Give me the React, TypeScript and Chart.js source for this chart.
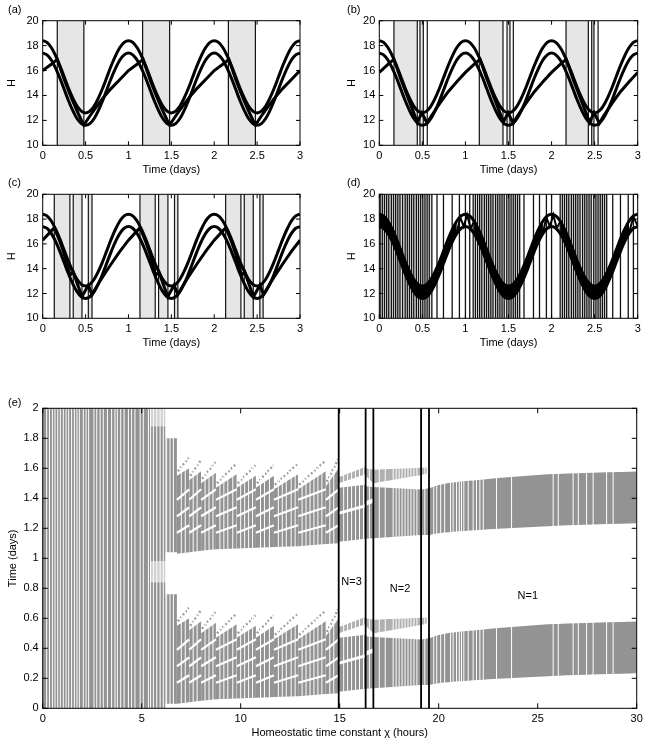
import React, { useEffect, useRef } from 'react';
import { Chart, registerables } from 'chart.js';
Chart.register(...registerables);

const FONT_FAMILY = "'Liberation Sans', Arial, Helvetica, sans-serif";
const TRANSPARENT = 'rgba(0,0,0,0)';

// ---------------- DATA: panels (a)-(d) ----------------
const T_GRID = [0, 0.05, 0.1, 0.15, 0.2, 0.25, 0.3, 0.35, 0.4, 0.45, 0.5, 0.55, 0.6, 0.65, 0.7, 0.75, 0.8, 0.85, 0.9, 0.95,
  1, 1.05, 1.1, 1.15, 1.2, 1.25, 1.3, 1.35, 1.4, 1.45, 1.5, 1.55, 1.6, 1.65, 1.7, 1.75, 1.8, 1.85, 1.9, 1.95,
  2, 2.05, 2.1, 2.15, 2.2, 2.25, 2.3, 2.35, 2.4, 2.45, 2.5, 2.55, 2.6, 2.65, 2.7, 2.75, 2.8, 2.85, 2.9, 2.95, 3];
const H_UPPER = [18.4, 18.26, 17.85, 17.2, 16.4, 15.5, 14.6, 13.8, 13.15, 12.74, 12.6, 12.74, 13.15, 13.8, 14.6, 15.5, 16.4, 17.2, 17.85, 18.26,
  18.4, 18.26, 17.85, 17.2, 16.4, 15.5, 14.6, 13.8, 13.15, 12.74, 12.6, 12.74, 13.15, 13.8, 14.6, 15.5, 16.4, 17.2, 17.85, 18.26,
  18.4, 18.26, 17.85, 17.2, 16.4, 15.5, 14.6, 13.8, 13.15, 12.74, 12.6, 12.74, 13.15, 13.8, 14.6, 15.5, 16.4, 17.2, 17.85, 18.26, 18.4];
const H_LOWER = [17.4, 17.26, 16.85, 16.2, 15.4, 14.5, 13.6, 12.8, 12.15, 11.74, 11.6, 11.74, 12.15, 12.8, 13.6, 14.5, 15.4, 16.2, 16.85, 17.26,
  17.4, 17.26, 16.85, 16.2, 15.4, 14.5, 13.6, 12.8, 12.15, 11.74, 11.6, 11.74, 12.15, 12.8, 13.6, 14.5, 15.4, 16.2, 16.85, 17.26,
  17.4, 17.26, 16.85, 16.2, 15.4, 14.5, 13.6, 12.8, 12.15, 11.74, 11.6, 11.74, 12.15, 12.8, 13.6, 14.5, 15.4, 16.2, 16.85, 17.26, 17.4];

// (a) N=1
const A_T = [0, 0.1, 0.17, 0.2, 0.25, 0.3, 0.35, 0.4, 0.45, 0.48, 0.55, 0.6, 0.7, 0.8, 0.9,
  1, 1.1, 1.17, 1.2, 1.25, 1.3, 1.35, 1.4, 1.45, 1.48, 1.55, 1.6, 1.7, 1.8, 1.9,
  2, 2.1, 2.17, 2.2, 2.25, 2.3, 2.35, 2.4, 2.45, 2.48, 2.55, 2.6, 2.7, 2.8, 2.9, 3];
const A_H = [16.0, 16.5, 16.9, 16.3, 15.3, 14.4, 13.56, 12.77, 12.03, 11.62, 12.35, 12.85, 13.77, 14.57, 15.28,
  16.0, 16.5, 16.9, 16.3, 15.3, 14.4, 13.56, 12.77, 12.03, 11.62, 12.35, 12.85, 13.77, 14.57, 15.28,
  16.0, 16.5, 16.9, 16.3, 15.3, 14.4, 13.56, 12.77, 12.03, 11.62, 12.35, 12.85, 13.77, 14.57, 15.28, 16.0];
const A_ON = [0.17, 1.165, 2.165];
const A_OFF = [0.48, 1.48, 2.48];
const A_LINES = [0.17, 0.48, 1.165, 1.48, 2.165, 2.48];

// (b) N=2
const B_T = [0, 0.1, 0.17, 0.2, 0.25, 0.3, 0.35, 0.4, 0.44, 0.495, 0.555, 0.6, 0.7, 0.8, 0.9,
  1, 1.1, 1.17, 1.2, 1.25, 1.3, 1.35, 1.4, 1.44, 1.495, 1.555, 1.6, 1.7, 1.8, 1.9,
  2, 2.1, 2.17, 2.2, 2.25, 2.3, 2.35, 2.4, 2.44, 2.495, 2.555, 2.6, 2.7, 2.8, 2.9, 3];
const B_H = [15.85, 16.5, 16.9, 16.3, 15.3, 14.4, 13.5, 12.6, 11.85, 12.6, 11.77, 12.3, 13.35, 14.3, 15.1,
  15.85, 16.5, 16.9, 16.3, 15.3, 14.4, 13.5, 12.6, 11.85, 12.6, 11.77, 12.3, 13.35, 14.3, 15.1,
  15.85, 16.5, 16.9, 16.3, 15.3, 14.4, 13.5, 12.6, 11.85, 12.6, 11.77, 12.3, 13.35, 14.3, 15.1, 15.85];
const B_ON = [0.17, 0.472, 1.161, 1.483, 2.168, 2.466];
const B_OFF = [0.441, 0.511, 1.436, 1.517, 2.427, 2.492];
const B_LINES = [0.17, 0.441, 0.472, 0.511, 0.557, 1.161, 1.436, 1.483, 1.517, 1.556, 2.168, 2.427, 2.466, 2.492, 2.54];

// (c) N=3
const C_T = [0, 0.1, 0.135, 0.2, 0.25, 0.3, 0.317, 0.356, 0.4, 0.458, 0.532, 0.575, 0.65, 0.7, 0.8, 0.9,
  1, 1.1, 1.135, 1.2, 1.25, 1.3, 1.317, 1.356, 1.4, 1.458, 1.532, 1.575, 1.65, 1.7, 1.8, 1.9,
  2, 2.1, 2.135, 2.2, 2.25, 2.3, 2.317, 2.356, 2.4, 2.458, 2.532, 2.575, 2.65, 2.7, 2.8, 2.9, 3];
const C_H = [16.3, 17.05, 17.3, 16.2, 15.2, 13.9, 13.45, 13.75, 12.85, 11.75, 12.66, 11.92, 12.8, 13.35, 14.4, 15.4,
  16.3, 17.05, 17.3, 16.2, 15.2, 13.9, 13.45, 13.75, 12.85, 11.75, 12.66, 11.92, 12.8, 13.35, 14.4, 15.4,
  16.3, 17.05, 17.3, 16.2, 15.2, 13.9, 13.45, 13.75, 12.85, 11.75, 12.66, 11.92, 12.8, 13.35, 14.4, 15.4, 16.3];
const C_ON = [0.135, 0.356, 0.532, 1.134, 1.351, 1.537, 2.133, 2.35, 2.532];
const C_OFF = [0.317, 0.458, 0.575, 1.312, 1.46, 1.576, 2.311, 2.455, 2.57];
const C_LINES = [0.135, 0.317, 0.356, 0.458, 0.532, 0.575, 1.134, 1.312, 1.351, 1.46, 1.537, 1.576, 2.133, 2.311, 2.35, 2.455, 2.532, 2.57];

// (d) fast switching
const D_ON = [0, 1.14, 2.13];
const D_OFF = [0.62, 1.63, 2.63];
const D_LINES = [0.01, 0.035, 0.06, 0.085, 0.11, 0.14, 0.165, 0.19, 0.215, 0.24, 0.27, 0.3, 0.325, 0.35, 0.375, 0.4, 0.43, 0.455, 0.48, 0.505, 0.53, 0.555, 0.58, 0.61,
  0.67, 0.745, 0.846, 0.93, 1.0, 1.05,
  1.09, 1.115, 1.14, 1.165, 1.19, 1.22, 1.245, 1.27, 1.295, 1.32, 1.35, 1.375, 1.4, 1.425, 1.45, 1.48, 1.505, 1.53, 1.555, 1.58, 1.605, 1.63,
  1.68, 1.79, 1.86, 1.94, 2.0,
  2.1, 2.125, 2.15, 2.175, 2.2, 2.23, 2.255, 2.28, 2.305, 2.33, 2.36, 2.385, 2.41, 2.435, 2.46, 2.49, 2.515, 2.54, 2.565, 2.59, 2.615, 2.64,
  2.71, 2.8, 2.89, 2.95];
const D_BAND_FROM = [0, 1.1, 2.1];
const D_BAND_TO = [0.9, 1.9, 2.9];
const D_ZIG_T = [0.9, 0.94, 0.98, 1.02, 1.06, 1.1, null, 1.9, 1.94, 1.98, 2.02, 2.06, 2.1, null, 2.9, 2.95, 3.0];
const D_ZIG_H = [16.9, 18.15, 17.4, 18.35, 17.25, 17.8, null, 16.9, 18.15, 17.4, 18.35, 17.25, 17.8, null, 16.9, 18.2, 17.45];

// ---------------- DATA: panel (e) ----------------
// chaotic region blocks (absolute time, days 0-2)
const CHAOS_X0 = [0, 5.42, 5.42, 6.2, 6.2];
const CHAOS_X1 = [5.42, 6.2, 6.2, 6.78, 6.78];
const CHAOS_LO = [0, 0, 0.98, 0.03, 1.04];
const CHAOS_HI = [2, 0.84, 1.88, 0.76, 1.8];
const CHAOS_FAINT_X0 = [5.42, 5.42];
const CHAOS_FAINT_X1 = [6.2, 6.2];
const CHAOS_FAINT_LO = [0.84, 1.88];
const CHAOS_FAINT_HI = [0.98, 2.0];
// staircase teeth (sleep times of day, repeated on day 2)
const TOOTH_X0 = [6.78, 7.4, 8.0, 8.75, 9.8, 10.77, 11.68, 12.9, 14.3];
const TOOTH_X1 = [7.4, 8.0, 8.75, 9.8, 10.77, 11.68, 12.9, 14.3, 14.95];
const TOOTH_LO0 = [0.03, 0.04, 0.05, 0.06, 0.065, 0.07, 0.075, 0.08, 0.095];
const TOOTH_LO1 = [0.04, 0.05, 0.06, 0.065, 0.07, 0.075, 0.08, 0.095, 0.1];
const TOOTH_HI0 = [0.55, 0.52, 0.5, 0.47, 0.47, 0.47, 0.46, 0.46, 0.48];
const TOOTH_HI1 = [0.6, 0.58, 0.57, 0.56, 0.55, 0.55, 0.56, 0.58, 0.6];
const TIP_T0 = [0.58, 0.55, 0.53, 0.5, 0.5, 0.5, 0.49, 0.49, 0.51];
const TIP_T1 = [0.67, 0.65, 0.64, 0.63, 0.62, 0.62, 0.63, 0.65, 0.66];
const STREAK_T0 = [0.17, 0.28, 0.39];
const STREAK_T1 = [0.22, 0.34, 0.46];
// N=3 / transition / N=2 / N=1 bands
const SUB_X0 = [14.95, 14.95, 16.31, 16.31, 16.7, 19.11];
const SUB_X1 = [16.31, 16.31, 16.7, 16.7, 19.11, 19.51];
const SUB_LO0 = [0.11, 0.31, 0.13, 0.38, 0.133, 0.155];
const SUB_LO1 = [0.13, 0.36, 0.133, 0.4, 0.155, 0.156];
const SUB_HI0 = [0.29, 0.47, 0.35, 0.48, 0.475, 0.458];
const SUB_HI1 = [0.34, 0.49, 0.37, 0.475, 0.458, 0.467];
const THIN_X0 = [14.95, 16.31, 16.7, 19.11];
const THIN_X1 = [16.31, 16.7, 19.11, 19.4];
const THIN_LO0 = [0.5, 0.55, 0.5, 0.556];
const THIN_LO1 = [0.56, 0.5, 0.556, 0.565];
const THIN_HI0 = [0.54, 0.6, 0.59, 0.603];
const THIN_HI1 = [0.61, 0.59, 0.603, 0.606];
const N1_X = [19.51, 20, 21, 22, 23, 25, 27, 30];
const N1_LO = [0.156, 0.167, 0.18, 0.189, 0.197, 0.211, 0.222, 0.233];
const N1_HI = [0.467, 0.489, 0.51, 0.522, 0.535, 0.556, 0.567, 0.578];
const E_GAPS = [0.2, 0.34, 0.49, 0.62, 0.76, 0.89, 1.04, 1.18, 1.31, 1.46, 1.6, 1.73, 1.85, 2.05, 2.19, 2.32, 2.59, 2.73, 2.9, 3.06,
  3.27, 3.48, 3.65, 3.77, 3.94, 4.11, 4.33, 4.49, 4.66, 4.92, 5.08, 5.34, 5.45, 5.59, 5.76, 5.93, 6.09, 6.26, 6.43, 6.6,
  7.0, 7.2, 7.6, 7.8, 8.2, 8.4, 8.6, 8.95, 9.15, 9.35, 9.6, 10.0, 10.2, 10.4, 10.6, 11.0, 11.2, 11.45, 11.9, 12.1, 12.3, 12.55, 12.75,
  13.1, 13.3, 13.5, 13.7, 13.9, 14.1, 14.5, 14.7, 15.2, 15.4, 15.6, 15.8, 16.0, 16.2, 16.5,
  17.0, 17.3, 17.7, 17.85, 18.0, 18.15, 18.3, 18.45, 18.6, 18.75, 18.9, 19.3,
  19.75, 19.9, 20.1, 20.3, 20.6, 20.73, 20.9, 21.04, 21.15, 21.27, 21.49, 21.74, 21.91, 22.08, 22.25, 22.92, 23.68,
  25.78, 26.04, 26.79, 27.05, 27.47, 27.8, 28.48, 28.81];
const E_BOUNDS = [14.95, 16.31, 16.7, 19.11, 19.51];
const E_LABELS = ['N=3', 'N=2', 'N=1'];
const E_LABEL_X = [15.6, 18.05, 24.5];
const E_LABEL_Y = [0.845, 0.795, 0.75];

// ---------------- helpers ----------------
const X_AXIS_H = 32;
const LINE_H = 13.2;
const fmt = (v: any) => String(Number(Number(v).toFixed(3)));
const font = { family: FONT_FAMILY, size: 11 };

const boxPlugin = {
  id: 'box',
  afterDraw(chart: any, _a: any, opts: any) {
    const { ctx, chartArea: a, scales } = chart;
    const len = opts.tickLen || 4;
    ctx.save();
    ctx.strokeStyle = '#000';
    ctx.lineWidth = 1;
    ctx.beginPath();
    for (const t of scales.x.ticks) {
      const px = scales.x.getPixelForValue(t.value);
      ctx.moveTo(px, a.bottom); ctx.lineTo(px, a.bottom - len);
      ctx.moveTo(px, a.top); ctx.lineTo(px, a.top + len);
    }
    for (const t of scales.y.ticks) {
      const py = scales.y.getPixelForValue(t.value);
      ctx.moveTo(a.left, py); ctx.lineTo(a.left + len, py);
      ctx.moveTo(a.right, py); ctx.lineTo(a.right - len, py);
    }
    ctx.stroke();
    ctx.strokeRect(a.left, a.top, a.right - a.left, a.bottom - a.top);
    if (opts.texts) {
      ctx.fillStyle = '#000';
      ctx.font = `11px ${FONT_FAMILY}`;
      ctx.textAlign = 'center';
      ctx.textBaseline = 'middle';
      for (const tx of opts.texts) ctx.fillText(tx.text, scales.x.getPixelForValue(tx.x), scales.y.getPixelForValue(tx.y));
    }
    ctx.restore();
  },
};

type Geom = { cl: number; ct: number; cw: number; ch: number; L: number; R: number; T: number; B: number; yTitleX: number };
type Ax = { xMin: number; xMax: number; xStep: number; yMin: number; yMax: number; yStep: number; xTitle: string; yTitle: string; tickLen: number; texts?: any[] };

function buildChart(canvas: HTMLCanvasElement, g: Geom, datasets: any[], ax: Ax) {
  return new Chart(canvas, {
    type: 'line',
    data: { datasets },
    options: {
      responsive: false,
      animation: false,
      events: [],
      layout: { padding: { left: 0, top: g.T - g.ct, right: g.cl + g.cw - g.R, bottom: g.ct + g.ch - g.B - X_AXIS_H } },
      elements: { point: { radius: 0, hoverRadius: 0 }, line: { borderCapStyle: 'butt' } },
      plugins: { legend: { display: false }, tooltip: { enabled: false }, box: { tickLen: ax.tickLen, texts: ax.texts } } as any,
      scales: {
        x: {
          type: 'linear', min: ax.xMin, max: ax.xMax,
          afterFit: (s: any) => { s.height = X_AXIS_H; },
          grid: { display: false, drawTicks: false }, border: { display: false },
          ticks: { stepSize: ax.xStep, padding: 4, color: '#000', font, maxRotation: 0, autoSkip: false, callback: fmt },
          title: { display: true, text: ax.xTitle, color: '#000', font, padding: { top: 0, bottom: X_AXIS_H - 25 - LINE_H / 2 } },
        },
        y: {
          type: 'linear', min: ax.yMin, max: ax.yMax,
          afterFit: (s: any) => { s.width = g.L - g.cl; },
          grid: { display: false, drawTicks: false }, border: { display: false },
          ticks: { stepSize: ax.yStep, padding: 4, color: '#000', font, autoSkip: false, callback: fmt },
          title: { display: true, text: ax.yTitle, color: '#000', font, padding: { top: g.yTitleX - g.cl - LINE_H / 2, bottom: 0 } },
        },
      },
    } as any,
    plugins: [boxPlugin as any],
  });
}

const pts = (xs: number[], ys: number[], off = 0) => xs.map((x, i) => ({ x, y: ys[i] + off }));
const vlines = (xs: number[], lo: number, hi: number) => {
  const out: any[] = [];
  xs.forEach((x) => { out.push({ x, y: lo }, { x, y: hi }, { x, y: null }); });
  return out;
};

function smallDatasets(on: number[], off: number[], lines: number[], trajT: number[] | null, trajH: number[] | null, lineW = 1.2) {
  const ds: any[] = [];
  ds.push({ data: pts(T_GRID, H_UPPER), borderColor: '#000', borderWidth: 3, tension: 0.4, fill: false, order: 1 });
  ds.push({ data: pts(T_GRID, H_LOWER), borderColor: '#000', borderWidth: 3, tension: 0.4, fill: false, order: 1 });
  if (trajT && trajH) ds.push({ data: pts(trajT, trajH), borderColor: '#000', borderWidth: 3, tension: 0, fill: false, order: 1 });
  ds.push({ data: vlines(lines, 10, 20), borderColor: '#111', borderWidth: lineW, fill: false, spanGaps: false, order: 2 });
  on.forEach((s, i) => {
    ds.push({ data: [{ x: s, y: 20 }, { x: off[i], y: 20 }], fill: 'start', backgroundColor: '#e6e6e6', borderColor: TRANSPARENT, borderWidth: 0, order: 3 });
  });
  return ds;
}

function dDatasets() {
  const ds = smallDatasets(D_ON, D_OFF, D_LINES, null, null, 1.3);
  D_BAND_FROM.forEach((f, k) => {
    const idx = T_GRID.map((t, i) => i).filter((i) => T_GRID[i] >= f - 1e-9 && T_GRID[i] <= D_BAND_TO[k] + 1e-9);
    ds.push({ data: idx.map((i) => ({ x: T_GRID[i], y: H_UPPER[i] })), fill: '+1', backgroundColor: '#000', borderColor: '#000', borderWidth: 1, tension: 0.4, order: 1 });
    ds.push({ data: idx.map((i) => ({ x: T_GRID[i], y: H_LOWER[i] })), fill: false, borderColor: '#000', borderWidth: 1, tension: 0.4, order: 1 });
  });
  ds.push({ data: D_ZIG_T.map((t, i) => ({ x: t, y: D_ZIG_H[i] })), borderColor: '#000', borderWidth: 2, spanGaps: false, fill: false, order: 1 });
  return ds;
}

function eDatasets() {
  const ds: any[] = [];
  const GREY = '#939393';
  const LIGHT = '#b0b0b0';
  const band = (xs: number[], lo: number[], hi: number[], color: string, tension = 0) => {
    ds.push({ data: pts(xs, hi), fill: '+1', backgroundColor: color, borderColor: TRANSPARENT, borderWidth: 0, tension, order: 10 });
    ds.push({ data: pts(xs, lo), fill: false, borderColor: TRANSPARENT, borderWidth: 0, tension, order: 10 });
  };
  CHAOS_X0.forEach((x0, i) => band([x0, CHAOS_X1[i]], [CHAOS_LO[i], CHAOS_LO[i]], [CHAOS_HI[i], CHAOS_HI[i]], GREY));
  CHAOS_FAINT_X0.forEach((x0, i) => band([x0, CHAOS_FAINT_X1[i]], [CHAOS_FAINT_LO[i], CHAOS_FAINT_LO[i]], [CHAOS_FAINT_HI[i], CHAOS_FAINT_HI[i]], '#cfcfcf'));
  const tips: any[] = [];
  const streaks: any[] = [];
  [0, 1].forEach((d) => {
    TOOTH_X0.forEach((x0, i) => {
      const x1 = TOOTH_X1[i];
      band([x0, x1], [TOOTH_LO0[i] + d, TOOTH_LO1[i] + d], [TOOTH_HI0[i] + d, TOOTH_HI1[i] + d], GREY);
      tips.push({ x: x0 + 0.05, y: TIP_T0[i] + d }, { x: x1 - 0.03, y: TIP_T1[i] + d }, { x: x1, y: null });
      STREAK_T0.forEach((s, k) => {
        streaks.push({ x: x0, y: s + d }, { x: x1, y: STREAK_T1[k] + d }, { x: x1, y: null });
      });
    });
    SUB_X0.forEach((x0, i) => band([x0, SUB_X1[i]], [SUB_LO0[i] + d, SUB_LO1[i] + d], [SUB_HI0[i] + d, SUB_HI1[i] + d], GREY));
    THIN_X0.forEach((x0, i) => band([x0, THIN_X1[i]], [THIN_LO0[i] + d, THIN_LO1[i] + d], [THIN_HI0[i] + d, THIN_HI1[i] + d], LIGHT));
    band(N1_X, N1_LO.map((v) => v + d), N1_HI.map((v) => v + d), GREY, 0.35);
  });
  ds.push({ data: tips, borderColor: '#9c9c9c', borderWidth: 2.4, borderDash: [2, 2], spanGaps: false, fill: false, order: 9 });
  ds.push({ data: vlines(E_GAPS, 0, 2), borderColor: '#ffffff', borderWidth: 1, spanGaps: false, fill: false, order: 5 });
  ds.push({ data: streaks, borderColor: '#ffffff', borderWidth: 2.2, spanGaps: false, fill: false, order: 4 });
  ds.push({ data: vlines(E_BOUNDS, 0, 2), borderColor: '#000', borderWidth: 1.8, spanGaps: false, fill: false, order: 1 });
  return ds;
}

// ---------------- layout ----------------
const GEOMS: Record<string, Geom> = {
  a: { cl: 0, ct: 0, cw: 320, ch: 178, L: 42.7, R: 300, T: 20.7, B: 145.3, yTitleX: 12.3 },
  b: { cl: 336, ct: 0, cw: 312, ch: 178, L: 379.3, R: 637.7, T: 20.7, B: 145.3, yTitleX: 351.7 },
  c: { cl: 0, ct: 178, cw: 320, ch: 173, L: 42.7, R: 300, T: 194.3, B: 318.3, yTitleX: 12.3 },
  d: { cl: 336, ct: 178, cw: 312, ch: 173, L: 379.3, R: 637.7, T: 194.3, B: 318.3, yTitleX: 351.7 },
  e: { cl: 0, ct: 360, cw: 648, ch: 383, L: 42.7, R: 636.7, T: 408.3, B: 708.3, yTitleX: 12.7 },
};
const SMALL_AX: Ax = { xMin: 0, xMax: 3, xStep: 0.5, yMin: 10, yMax: 20, yStep: 2, xTitle: 'Time (days)', yTitle: 'H', tickLen: 4 };
const E_AX: Ax = {
  xMin: 0, xMax: 30, xStep: 5, yMin: 0, yMax: 2, yStep: 0.2,
  xTitle: 'Homeostatic time constant \u03c7 (hours)', yTitle: 'Time (days)', tickLen: 5,
  texts: E_LABELS.map((t, i) => ({ text: t, x: E_LABEL_X[i], y: E_LABEL_Y[i] })),
};
const PANEL_LABELS = [
  { key: 'a', text: '(a)', x: 8, y: 3 },
  { key: 'b', text: '(b)', x: 347, y: 3 },
  { key: 'c', text: '(c)', x: 8, y: 176 },
  { key: 'd', text: '(d)', x: 347, y: 176 },
  { key: 'e', text: '(e)', x: 8, y: 396 },
];

export default function App() {
  const refs = {
    a: useRef<HTMLCanvasElement>(null),
    b: useRef<HTMLCanvasElement>(null),
    c: useRef<HTMLCanvasElement>(null),
    d: useRef<HTMLCanvasElement>(null),
    e: useRef<HTMLCanvasElement>(null),
  } as Record<string, React.RefObject<HTMLCanvasElement>>;

  useEffect(() => {
    const charts: Chart[] = [];
    charts.push(buildChart(refs.a.current!, GEOMS.a, smallDatasets(A_ON, A_OFF, A_LINES, A_T, A_H), SMALL_AX));
    charts.push(buildChart(refs.b.current!, GEOMS.b, smallDatasets(B_ON, B_OFF, B_LINES, B_T, B_H), SMALL_AX));
    charts.push(buildChart(refs.c.current!, GEOMS.c, smallDatasets(C_ON, C_OFF, C_LINES, C_T, C_H), SMALL_AX));
    charts.push(buildChart(refs.d.current!, GEOMS.d, dDatasets(), SMALL_AX));
    charts.push(buildChart(refs.e.current!, GEOMS.e, eDatasets(), E_AX));
    return () => charts.forEach((c) => c.destroy());
  }, []);

  return (
    <div style={{ position: 'fixed', left: 0, top: 0, width: 648, height: 743, background: '#fff', overflow: 'hidden' }}>
      {Object.keys(GEOMS).map((k) => {
        const g = GEOMS[k];
        return (
          <canvas key={k} ref={refs[k]} width={g.cw} height={g.ch}
            style={{ position: 'absolute', left: g.cl, top: g.ct, width: g.cw, height: g.ch }} />
        );
      })}
      {PANEL_LABELS.map((p) => (
        <span key={p.key} style={{ position: 'absolute', left: p.x, top: p.y, font: `11px ${FONT_FAMILY}`, color: '#000', lineHeight: '13px' }}>{p.text}</span>
      ))}
    </div>
  );
}
